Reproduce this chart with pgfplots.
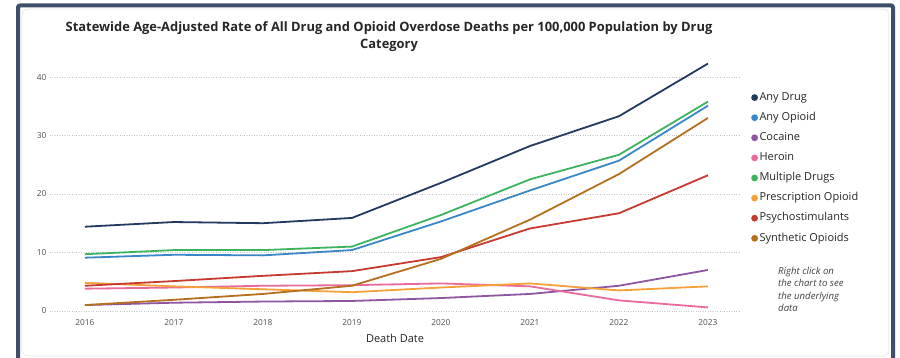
\documentclass[border=0pt]{standalone}
\usepackage{pgfplots}
\pgfplotsset{compat=1.18}
\usepackage{fontspec}
\setmainfont{Open Sans}
\definecolor{anydrug}{HTML}{233A5F}
\definecolor{anyopioid}{HTML}{3A87C8}
\definecolor{cocaine}{HTML}{8E55A0}
\definecolor{heroin}{HTML}{E96A9C}
\definecolor{multiple}{HTML}{3DB35F}
\definecolor{prescription}{HTML}{F4A13A}
\definecolor{psycho}{HTML}{C73A30}
\definecolor{synthetic}{HTML}{B4701E}
\definecolor{frame}{HTML}{3E4F6B}
\definecolor{ticklab}{HTML}{505050}
\begin{document}
\begin{tikzpicture}
\path[use as bounding box] (0pt,0pt) rectangle (900pt,358pt);
\fill[white] (0pt,0pt) rectangle (900pt,358pt);
\draw[gray!18, line width=0.8pt, rounded corners=6pt] (22pt,2pt) rectangle (889pt,349pt);
\draw[frame, line width=4pt, rounded corners=2pt] (18pt,-5pt) -- (18pt,352.5pt) -- (893pt,352.5pt) -- (893pt,-5pt);
\node[font=\bfseries\fontsize{12.9}{17}\selectfont, align=center, text=black!85] at (389pt,321pt)
  {Statewide Age-Adjusted Rate of All Drug and Opioid Overdose Deaths per 100,000 Population by Drug\\Category};
\node[font=\itshape\fontsize{9.6}{12.5}\selectfont, align=left, anchor=north west, inner sep=0pt, text=black!75] at (778pt,91pt)
  {Right click on\\the chart to see\\the underlying\\data};
\begin{axis}[
  at={(50pt,43pt)}, anchor=south west, scale only axis,
  width=690pt, height=255.5pt,
  xmin=2015.607, xmax=2023.36, ymin=-0.7, ymax=43,
  axis line style={draw=none},
  major tick length=0pt,
  xtick={2016,2017,2018,2019,2020,2021,2022,2023},
  ytick={0,10,20,30,40},
  ymajorgrids,
  grid style={gray!45, dotted, line width=0.6pt},
  /pgf/number format/assume math mode=true,
  x tick label style={/pgf/number format/1000 sep=, font=\fontsize{8.3}{10}\selectfont, text=ticklab, yshift=-0.5pt},
  y tick label style={font=\fontsize{8.3}{10}\selectfont, text=ticklab},
  xlabel={Death Date},
  xlabel style={font=\fontsize{11}{13}\selectfont, text=black!85, yshift=-2pt},
  every axis plot/.append style={line width=1.8pt},
  legend style={at={(1.0116,0.880)}, anchor=north west, draw=none, fill=none,
    font=\fontsize{11}{13}\selectfont, text=black!85,
    nodes={inner sep=0pt, text height=8pt, text depth=2.5pt},
    row sep=9.6pt, column sep=1.5pt},
  legend cell align=left,
  legend image code/.code={\fill[draw=none] (0pt,0pt) circle (3.4pt);},
]
\addplot[color=anydrug] coordinates {(2016,14.4) (2017,15.2) (2018,15.0) (2019,15.9) (2020,21.9) (2021,28.2) (2022,33.3) (2023,42.3)};
\addlegendentry{Any Drug}
\addplot[color=anyopioid] coordinates {(2016,9.1) (2017,9.6) (2018,9.5) (2019,10.4) (2020,15.3) (2021,20.6) (2022,25.7) (2023,35.1)};
\addlegendentry{Any Opioid}
\addplot[color=cocaine] coordinates {(2016,1.0) (2017,1.4) (2018,1.6) (2019,1.7) (2020,2.2) (2021,2.9) (2022,4.3) (2023,7.0)};
\addlegendentry{Cocaine}
\addplot[color=heroin] coordinates {(2016,3.8) (2017,4.0) (2018,4.3) (2019,4.4) (2020,4.7) (2021,4.2) (2022,1.8) (2023,0.6)};
\addlegendentry{Heroin}
\addplot[color=multiple] coordinates {(2016,9.7) (2017,10.4) (2018,10.4) (2019,11.0) (2020,16.4) (2021,22.5) (2022,26.7) (2023,35.8)};
\addlegendentry{Multiple Drugs}
\addplot[color=prescription] coordinates {(2016,4.8) (2017,4.2) (2018,3.7) (2019,3.2) (2020,4.0) (2021,4.7) (2022,3.5) (2023,4.2)};
\addlegendentry{Prescription Opioid}
\addplot[color=psycho] coordinates {(2016,4.3) (2017,5.1) (2018,6.0) (2019,6.8) (2020,9.2) (2021,14.1) (2022,16.7) (2023,23.2)};
\addlegendentry{Psychostimulants}
\addplot[color=synthetic] coordinates {(2016,1.0) (2017,1.9) (2018,2.9) (2019,4.3) (2020,8.9) (2021,15.6) (2022,23.4) (2023,33.0)};
\addlegendentry{Synthetic Opioids}
\end{axis}
\end{tikzpicture}
\end{document}
